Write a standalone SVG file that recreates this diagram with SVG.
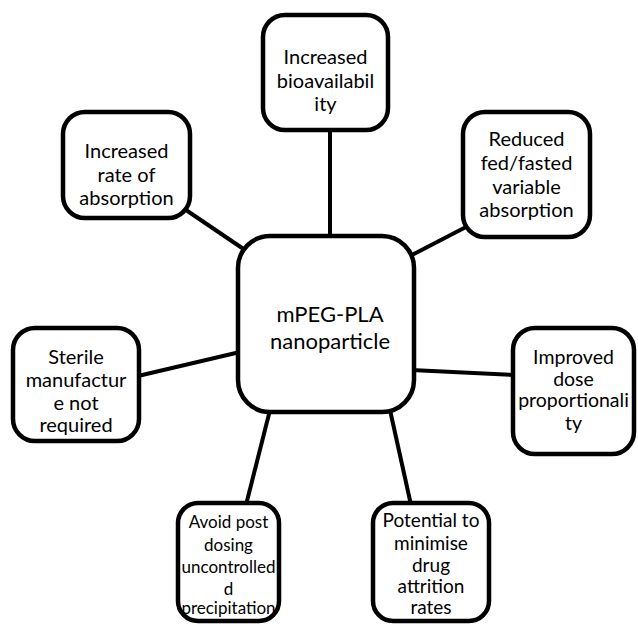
<svg xmlns="http://www.w3.org/2000/svg" width="638" height="627" viewBox="0 0 638 627">
<style>
.box{fill:#fff;stroke:#000;stroke-width:4.5}
.con line{stroke:#000;stroke-width:4}
text{font-family:Lato,"Open Sans","Liberation Sans",sans-serif;fill:#000;text-anchor:middle}
.t{font-size:20px}
.r{font-size:19.5px}
.s{font-size:17px}
.b{font-size:19px}
.c{font-size:22px}
</style>
<rect width="638" height="627" fill="#fff"/>
<g class="con">
<line x1="330" y1="130" x2="330" y2="238"/>
<line x1="183" y1="208" x2="245" y2="250"/>
<line x1="466" y1="227" x2="410" y2="256"/>
<line x1="138" y1="376" x2="240" y2="352"/>
<line x1="411" y1="370" x2="514" y2="375"/>
<line x1="270" y1="410" x2="246" y2="505"/>
<line x1="390" y1="410" x2="411" y2="505"/>
</g>
<g id="center">
<rect class="box" x="238" y="236" width="176" height="176" rx="32"/>
<text class="c" x="330" y="322">mPEG-PLA</text>
<text class="c" x="330" y="349">nanoparticle</text>
</g>
<g id="n-top">
<rect class="box" x="263" y="15" width="125" height="115" rx="22"/>
<text class="t"><tspan x="325.5" y="64">Increased</tspan><tspan x="325.5" y="87.5">bioavailabil</tspan><tspan x="325.5" y="111">ity</tspan></text>
</g>
<g id="n-topleft">
<rect class="box" x="63" y="112" width="127" height="106" rx="22"/>
<text class="t"><tspan x="126.5" y="158">Increased</tspan><tspan x="126.5" y="182">rate of</tspan><tspan x="126.5" y="205">absorption</tspan></text>
</g>
<g id="n-topright">
<rect class="box" x="463" y="112" width="127" height="125" rx="22"/>
<text class="t"><tspan x="526.5" y="146">Reduced</tspan><tspan x="526.5" y="170">fed/fasted</tspan><tspan x="526.5" y="194">variable</tspan><tspan x="526.5" y="217">absorption</tspan></text>
</g>
<g id="n-left">
<rect class="box" x="13" y="328" width="126" height="113" rx="22"/>
<text class="t"><tspan x="76" y="364">Sterile</tspan><tspan x="76" y="387">manufactur</tspan><tspan x="76" y="410">e not</tspan><tspan x="76" y="432">required</tspan></text>
</g>
<g id="n-right">
<rect class="box" x="513" y="328" width="121" height="126" rx="22"/>
<text class="r"><tspan x="573.5" y="364">Improved</tspan><tspan x="573.5" y="386">dose</tspan><tspan x="573.5" y="407">proportionali</tspan><tspan x="573.5" y="430">ty</tspan></text>
</g>
<g id="n-bottomleft">
<rect class="box" x="178" y="503" width="101" height="118" rx="20"/>
<text class="s"><tspan x="228.5" y="528">Avoid post</tspan><tspan x="228.5" y="551">dosing</tspan><tspan x="228.5" y="573">uncontrolled</tspan><tspan x="228.5" y="595">d</tspan><tspan x="228.5" y="614">precipitation</tspan></text>
</g>
<g id="n-bottomright">
<rect class="box" x="373" y="503" width="116" height="118" rx="20"/>
<text class="b"><tspan x="431" y="527">Potential to</tspan><tspan x="431" y="550">minimise</tspan><tspan x="431" y="572">drug</tspan><tspan x="431" y="593">attrition</tspan><tspan x="431" y="614">rates</tspan></text>
</g>
</svg>
